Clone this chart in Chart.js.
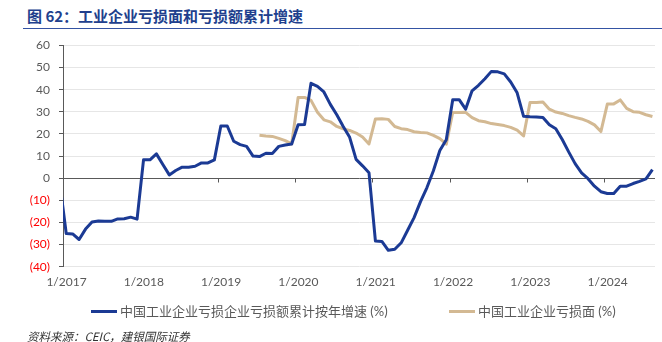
<!DOCTYPE html>
<html>
<head>
<meta charset="utf-8">
<script src="https://cdn.jsdelivr.net/npm/chart.js@4.4.1/dist/chart.umd.min.js"></script>
<style>
  html, body { margin: 0; padding: 0; background: #fff; }
  body { width: 662px; height: 342px; position: relative; overflow: hidden; }
  #title {
    position: absolute; left: 27px; top: 8px;
    font: bold 15px/16px "Noto Sans CJK SC", sans-serif; color: #213f8d;
    white-space: nowrap;
  }
  #rule { position: absolute; left: 23px; top: 28px; width: 639px; height: 1px; background: #3453a3; }
  #wrap { position: absolute; left: 0; top: 0; width: 662px; height: 342px; }
  .legend-item {
    position: absolute; top: 304px; height: 14px;
    font: 13px/14px "Lato", "Noto Sans CJK SC", sans-serif; color: #595959;
    white-space: nowrap; display: flex; align-items: center;
  }
  .legend-item i { display: inline-block; width: 26px; height: 3px; margin-right: 3px; }
  #source {
    position: absolute; left: 27px; top: 330px;
    font: italic 11.5px/13px "Noto Sans CJK SC", sans-serif; color: #333;
    white-space: nowrap;
  }
</style>
</head>
<body>
<div id="title">图 62：工业企业亏损面和亏损额累计增速</div>
<div id="rule"></div>
<div id="wrap"><canvas id="chart"></canvas></div>
<div class="legend-item" id="leg-growth" style="left:91px"><i></i><span></span></div>
<div class="legend-item" id="leg-share" style="left:449px"><i></i><span></span></div>
<div id="source">资料来源：CEIC，建银国际证券</div>

<script>
// 亏损企业亏损额累计同比 (%), monthly from 2016-12
const growthStart = "2016-12";
const lossGrowth = [
  -2,
  -25, -25.2, -27.7, -23, -19.8, -19.3, -19.4, -19.5, -18.4, -18.3, -17.6, -18.5,
  8.3, 8.3, 11.0, 6.2, 1.5, 3.5, 5.0, 5.0, 5.4, 6.9, 6.9, 8.3,
  23.6, 23.6, 16.7, 15.2, 14.4, 10.0, 9.8, 11.3, 11.2, 14.4, 15.0, 15.5,
  24.2, 24.3, 42.9, 41.5, 39.0, 33.4, 28.7, 23.4, 18.5, 8.5, 5.6, 2.5,
  -28.4, -28.6, -32.6, -32.1, -29.2, -23.5, -17.8, -10.6, -4.2, 3.4, 12.5, 17.4,
  35.5, 35.5, 31.2, 39.5, 42.0, 45.0, 48.3, 48.1, 47.2, 43.5, 38.6, 28.0,
  27.8, 27.7, 27.5, 24.2, 22.4, 17.5, 11.9, 6.6, 2.4, -0.2, -3.6, -6.1,
  -6.9, -6.9, -3.6, -3.6, -2.4, -1.4, -0.3, 3.9
];

// 工业企业亏损面 (%), monthly from 2019-07
const shareStart = "2019-07";
const lossShare = [
  19.4, 19.1, 18.9, 18.0, 17.0, 15.5,
  36.5, 36.5, 35.2, 29.8, 26.4, 25.5, 23.4, 22.3, 21.6, 20.4, 18.6, 15.5,
  26.8, 26.9, 26.6, 23.4, 22.4, 22.0, 21.0, 20.7, 20.5, 19.4, 17.9, 15.4,
  29.7, 29.7, 29.8, 27.4, 26.0, 25.5, 24.7, 24.3, 23.8, 23.0, 21.7, 19.1,
  34.2, 34.2, 34.5, 31.2, 29.9, 29.3, 28.3, 27.5, 26.8, 25.7, 24.1, 21.1,
  33.5, 33.6, 35.4, 31.6, 30.1, 29.8, 28.7, 27.9
];

const yearLabels = ["1/2017", "1/2018", "1/2019", "1/2020", "1/2021", "1/2022", "1/2023", "1/2024"];
const seriesNames = ["中国工业企业亏损企业亏损额累计按年增速 (%)", "中国工业企业亏损面 (%)"];
const yTicks = { min: -40, max: 60, step: 10 };

const BLUE = "#1b3a94";
const TAN = "#d3b993";
const AXIS = "#595959";
const GRID = "#e6e6e6";

// months counted from Jan 2017 (= 0)
function monthIndex(ym) {
  const [y, m] = ym.split("-").map(Number);
  return (y - 2017) * 12 + (m - 1);
}

function toPoints(values, start) {
  const first = monthIndex(start);
  return values.map((v, i) => ({ x: first + i, y: v }));
}

// small tick marks on the zero line at each year boundary
const zeroLineTicks = {
  id: "zeroLineTicks",
  beforeDatasetsDraw(chart) {
    const { ctx, scales } = chart;
    const y0 = Math.round(scales.y.getPixelForValue(0)) + 0.5;
    ctx.save();
    ctx.strokeStyle = AXIS;
    ctx.lineWidth = 1;
    ctx.beginPath();
    scales.x.ticks.forEach((t) => {
      const px = Math.round(scales.x.getPixelForValue(t.value)) + 0.5;
      ctx.moveTo(px, y0);
      ctx.lineTo(px, y0 + 4);
    });
    ctx.stroke();
    ctx.restore();
  },
};

document.querySelector("#leg-growth i").style.background = BLUE;
document.querySelector("#leg-growth span").textContent = seriesNames[0];
document.querySelector("#leg-share i").style.background = TAN;
document.querySelector("#leg-share span").textContent = seriesNames[1];

new Chart(document.getElementById("chart"), {
  type: "line",
  data: {
    datasets: [
      {
        label: seriesNames[0],
        data: toPoints(lossGrowth, growthStart),
        borderColor: BLUE,
        borderWidth: 3,
        borderJoinStyle: "round",
        pointRadius: 0,
        tension: 0,
        clip: 0,
      },
      {
        label: seriesNames[1],
        data: toPoints(lossShare, shareStart),
        borderColor: TAN,
        borderWidth: 3,
        borderJoinStyle: "round",
        pointRadius: 0,
        tension: 0,
        clip: 0,
      },
    ],
  },
  options: {
    responsive: true,
    maintainAspectRatio: false,
    animation: false,
    layout: { padding: { top: 45.5, right: 7, bottom: 51.3, left: 0 } },
    plugins: {
      legend: { display: false },
      tooltip: { enabled: false },
    },
    scales: {
      x: {
        type: "linear",
        min: -0.5,
        max: 91.4,
        afterFit: (s) => { s.height = 24; },
        // year ticks sit on the boundary before each January
        afterBuildTicks: (s) => {
          s.ticks = yearLabels.map((_, i) => ({ value: i * 12 - 0.5 }));
        },
        grid: { display: false, drawTicks: false },
        border: { display: false },
        ticks: {
          autoSkip: false,
          maxRotation: 0,
          padding: 8,
          labelOffset: 3.5,
          color: AXIS,
          font: { family: "Lato", size: 12 },
          callback: (v, i) => yearLabels[i],
        },
      },
      y: {
        min: yTicks.min,
        max: yTicks.max,
        afterFit: (s) => { s.width = 63; },
        grid: {
          color: (c) => (c.tick && c.tick.value === 0 ? AXIS : GRID),
          tickColor: AXIS,
          tickLength: 4,
        },
        border: { display: true, color: AXIS },
        ticks: {
          stepSize: yTicks.step,
          padding: 9,
          color: (c) => (c.tick.value < 0 ? "#ff0000" : AXIS),
          font: { family: "Lato", size: 12 },
          callback: (v) => (v < 0 ? "(" + -v + ")" : String(v)),
        },
      },
    },
  },
  plugins: [zeroLineTicks],
});
</script>
</body>
</html>
